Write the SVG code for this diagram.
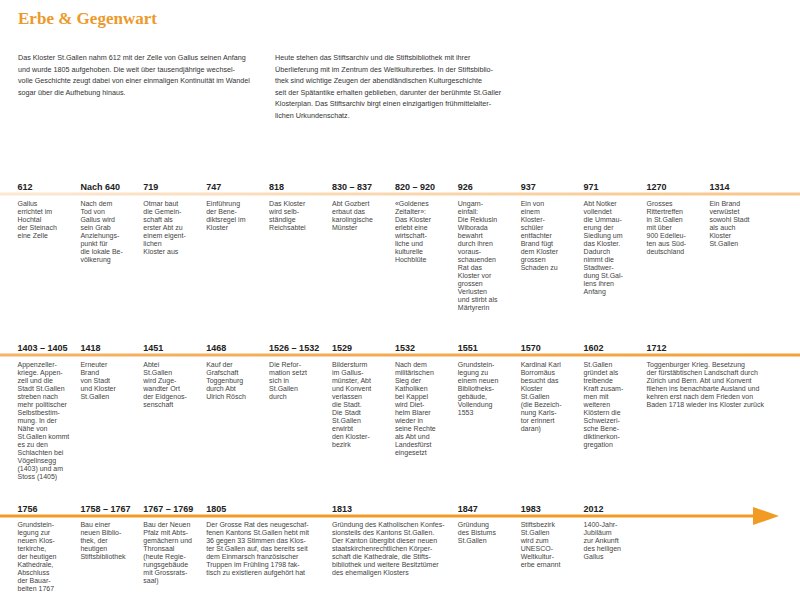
<svg xmlns="http://www.w3.org/2000/svg" width="800" height="609" viewBox="0 0 800 609">
<defs>
<style>
.t{font-family:"Liberation Serif","Times New Roman",serif;font-weight:bold;font-size:17px;fill:#EC9A2C}
.i{font-family:"Liberation Sans",Arial,sans-serif;font-size:7.2px;fill:#333}
.y{font-family:"Liberation Sans",Arial,sans-serif;font-weight:bold;font-size:9px;fill:#222}
.b{font-family:"Liberation Sans",Arial,sans-serif;font-size:7px;fill:#444}
.ln{fill:none;stroke-width:3}
</style>
<linearGradient id="g1" gradientUnits="userSpaceOnUse" x1="0" y1="0" x2="800" y2="0">
<stop offset="0" stop-color="#FCE8D2"/><stop offset="1" stop-color="#F7C58A"/>
</linearGradient>
<linearGradient id="g2" gradientUnits="userSpaceOnUse" x1="0" y1="0" x2="800" y2="0">
<stop offset="0" stop-color="#F5B366"/><stop offset="1" stop-color="#F2A13A"/>
</linearGradient>
</defs>
<rect width="800" height="609" fill="#fff"/>
<text class="t" x="18" y="24" textLength="139" lengthAdjust="spacingAndGlyphs">Erbe &amp; Gegenwart</text>
<g id="intro-left">
<text class="i" x="18" y="60">
<tspan x="18" y="60">Das Kloster St.Gallen nahm 612 mit der Zelle von Gallus seinen Anfang</tspan>
<tspan x="18" y="71.6">und wurde 1805 aufgehoben. Die weit über tausendjährige wechsel-</tspan>
<tspan x="18" y="83.2">volle Geschichte zeugt dabei von einer einmaligen Kontinuität im Wandel</tspan>
<tspan x="18" y="94.8">sogar über die Aufhebung hinaus.</tspan>
</text>
</g>
<g id="intro-right">
<text class="i" x="275" y="60">
<tspan x="275" y="60">Heute stehen das Stiftsarchiv und die Stiftsbibliothek mit ihrer</tspan>
<tspan x="275" y="71.6">Überlieferung mit im Zentrum des Weltkulturerbes. In der Stiftsbiblio-</tspan>
<tspan x="275" y="83.2">thek sind wichtige Zeugen der abendländischen Kulturgeschichte</tspan>
<tspan x="275" y="94.8">seit der Spätantike erhalten geblieben, darunter der berühmte St.Galler</tspan>
<tspan x="275" y="106.4">Klosterplan. Das Stiftsarchiv birgt einen einzigartigen frühmittelalter-</tspan>
<tspan x="275" y="118">lichen Urkundenschatz.</tspan>
</text>
</g>
<g id="connectors">
<line class="ln" x1="0" y1="194" x2="800" y2="194" stroke="url(#g1)"/>
<line class="ln" x1="0" y1="355" x2="800" y2="355" stroke="url(#g2)"/>
<line class="ln" x1="0" y1="516" x2="756" y2="516" stroke="#F29B24"/>
<polygon points="753,507 779,516 753,525" fill="#F29B24"/>
</g>
<!-- Row 1 -->
<g id="e612"><text class="y" x="17.5" y="190">612</text><text class="b"><tspan x="17.5" y="206">Gallus</tspan><tspan x="17.5" dy="8">errichtet im</tspan><tspan x="17.5" dy="8">Hochtal</tspan><tspan x="17.5" dy="8">der Steinach</tspan><tspan x="17.5" dy="8">eine Zelle</tspan></text></g>
<g id="e640"><text class="y" x="80.4" y="190">Nach 640</text><text class="b"><tspan x="80.4" y="206">Nach dem</tspan><tspan x="80.4" dy="8">Tod von</tspan><tspan x="80.4" dy="8">Gallus wird</tspan><tspan x="80.4" dy="8">sein Grab</tspan><tspan x="80.4" dy="8">Anziehungs-</tspan><tspan x="80.4" dy="8">punkt für</tspan><tspan x="80.4" dy="8">die lokale Be-</tspan><tspan x="80.4" dy="8">völkerung</tspan></text></g>
<g id="e719"><text class="y" x="143.3" y="190">719</text><text class="b"><tspan x="143.3" y="206">Otmar baut</tspan><tspan x="143.3" dy="8">die Gemein-</tspan><tspan x="143.3" dy="8">schaft als</tspan><tspan x="143.3" dy="8">erster Abt zu</tspan><tspan x="143.3" dy="8">einem eigent-</tspan><tspan x="143.3" dy="8">lichen</tspan><tspan x="143.3" dy="8">Kloster aus</tspan></text></g>
<g id="e747"><text class="y" x="206.2" y="190">747</text><text class="b"><tspan x="206.2" y="206">Einführung</tspan><tspan x="206.2" dy="8">der Bene-</tspan><tspan x="206.2" dy="8">diktsregel im</tspan><tspan x="206.2" dy="8">Kloster</tspan></text></g>
<g id="e818"><text class="y" x="269.1" y="190">818</text><text class="b"><tspan x="269.1" y="206">Das Kloster</tspan><tspan x="269.1" dy="8">wird selb-</tspan><tspan x="269.1" dy="8">ständige</tspan><tspan x="269.1" dy="8">Reichsabtei</tspan></text></g>
<g id="e830"><text class="y" x="332" y="190">830 – 837</text><text class="b"><tspan x="332" y="206">Abt Gozbert</tspan><tspan x="332" dy="8">erbaut das</tspan><tspan x="332" dy="8">karolingische</tspan><tspan x="332" dy="8">Münster</tspan></text></g>
<g id="e820"><text class="y" x="394.9" y="190">820 – 920</text><text class="b"><tspan x="394.9" y="206">«Goldenes</tspan><tspan x="394.9" dy="8">Zeitalter»:</tspan><tspan x="394.9" dy="8">Das Kloster</tspan><tspan x="394.9" dy="8">erlebt eine</tspan><tspan x="394.9" dy="8">wirtschaft-</tspan><tspan x="394.9" dy="8">liche und</tspan><tspan x="394.9" dy="8">kulturelle</tspan><tspan x="394.9" dy="8">Hochblüte</tspan></text></g>
<g id="e926"><text class="y" x="457.8" y="190">926</text><text class="b"><tspan x="457.8" y="206">Ungarn-</tspan><tspan x="457.8" dy="8">einfall:</tspan><tspan x="457.8" dy="8">Die Reklusin</tspan><tspan x="457.8" dy="8">Wiborada</tspan><tspan x="457.8" dy="8">bewahrt</tspan><tspan x="457.8" dy="8">durch ihren</tspan><tspan x="457.8" dy="8">voraus-</tspan><tspan x="457.8" dy="8">schauenden</tspan><tspan x="457.8" dy="8">Rat das</tspan><tspan x="457.8" dy="8">Kloster vor</tspan><tspan x="457.8" dy="8">grossen</tspan><tspan x="457.8" dy="8">Verlusten</tspan><tspan x="457.8" dy="8">und stirbt als</tspan><tspan x="457.8" dy="8">Märtyrerin</tspan></text></g>
<g id="e937"><text class="y" x="520.7" y="190">937</text><text class="b"><tspan x="520.7" y="206">Ein von</tspan><tspan x="520.7" dy="8">einem</tspan><tspan x="520.7" dy="8">Kloster-</tspan><tspan x="520.7" dy="8">schüler</tspan><tspan x="520.7" dy="8">entfachter</tspan><tspan x="520.7" dy="8">Brand fügt</tspan><tspan x="520.7" dy="8">dem Kloster</tspan><tspan x="520.7" dy="8">grossen</tspan><tspan x="520.7" dy="8">Schaden zu</tspan></text></g>
<g id="e971"><text class="y" x="583.6" y="190">971</text><text class="b"><tspan x="583.6" y="206">Abt Notker</tspan><tspan x="583.6" dy="8">vollendet</tspan><tspan x="583.6" dy="8">die Ummau-</tspan><tspan x="583.6" dy="8">erung der</tspan><tspan x="583.6" dy="8">Siedlung um</tspan><tspan x="583.6" dy="8">das Kloster.</tspan><tspan x="583.6" dy="8">Dadurch</tspan><tspan x="583.6" dy="8">nimmt die</tspan><tspan x="583.6" dy="8">Stadtwer-</tspan><tspan x="583.6" dy="8">dung St.Gal-</tspan><tspan x="583.6" dy="8">lens ihren</tspan><tspan x="583.6" dy="8">Anfang</tspan></text></g>
<g id="e1270"><text class="y" x="646.5" y="190">1270</text><text class="b"><tspan x="646.5" y="206">Grosses</tspan><tspan x="646.5" dy="8">Rittertreffen</tspan><tspan x="646.5" dy="8">in St.Gallen</tspan><tspan x="646.5" dy="8">mit über</tspan><tspan x="646.5" dy="8">900 Edelleu-</tspan><tspan x="646.5" dy="8">ten aus Süd-</tspan><tspan x="646.5" dy="8">deutschland</tspan></text></g>
<g id="e1314"><text class="y" x="709.4" y="190">1314</text><text class="b"><tspan x="709.4" y="206">Ein Brand</tspan><tspan x="709.4" dy="8">verwüstet</tspan><tspan x="709.4" dy="8">sowohl Stadt</tspan><tspan x="709.4" dy="8">als auch</tspan><tspan x="709.4" dy="8">Kloster</tspan><tspan x="709.4" dy="8">St.Gallen</tspan></text></g>
<!-- Row 2 -->
<g id="e1403"><text class="y" x="17.5" y="351">1403 – 1405</text><text class="b"><tspan x="17.5" y="367">Appenzeller-</tspan><tspan x="17.5" dy="8">kriege. Appen-</tspan><tspan x="17.5" dy="8">zell und die</tspan><tspan x="17.5" dy="8">Stadt St.Gallen</tspan><tspan x="17.5" dy="8">streben nach</tspan><tspan x="17.5" dy="8">mehr politischer</tspan><tspan x="17.5" dy="8">Selbstbestim-</tspan><tspan x="17.5" dy="8">mung. In der</tspan><tspan x="17.5" dy="8">Nähe von</tspan><tspan x="17.5" dy="8">St.Gallen kommt</tspan><tspan x="17.5" dy="8">es zu den</tspan><tspan x="17.5" dy="8">Schlachten bei</tspan><tspan x="17.5" dy="8">Vögelinsegg</tspan><tspan x="17.5" dy="8">(1403) und am</tspan><tspan x="17.5" dy="8">Stoss (1405)</tspan></text></g>
<g id="e1418"><text class="y" x="80.4" y="351">1418</text><text class="b"><tspan x="80.4" y="367">Erneuter</tspan><tspan x="80.4" dy="8">Brand</tspan><tspan x="80.4" dy="8">von Stadt</tspan><tspan x="80.4" dy="8">und Kloster</tspan><tspan x="80.4" dy="8">St.Gallen</tspan></text></g>
<g id="e1451"><text class="y" x="143.3" y="351">1451</text><text class="b"><tspan x="143.3" y="367">Abtei</tspan><tspan x="143.3" dy="8">St.Gallen</tspan><tspan x="143.3" dy="8">wird Zuge-</tspan><tspan x="143.3" dy="8">wandter Ort</tspan><tspan x="143.3" dy="8">der Eidgenos-</tspan><tspan x="143.3" dy="8">senschaft</tspan></text></g>
<g id="e1468"><text class="y" x="206.2" y="351">1468</text><text class="b"><tspan x="206.2" y="367">Kauf der</tspan><tspan x="206.2" dy="8">Grafschaft</tspan><tspan x="206.2" dy="8">Toggenburg</tspan><tspan x="206.2" dy="8">durch Abt</tspan><tspan x="206.2" dy="8">Ulrich Rösch</tspan></text></g>
<g id="e1526"><text class="y" x="269.1" y="351">1526 – 1532</text><text class="b"><tspan x="269.1" y="367">Die Refor-</tspan><tspan x="269.1" dy="8">mation setzt</tspan><tspan x="269.1" dy="8">sich in</tspan><tspan x="269.1" dy="8">St.Gallen</tspan><tspan x="269.1" dy="8">durch</tspan></text></g>
<g id="e1529"><text class="y" x="332" y="351">1529</text><text class="b"><tspan x="332" y="367">Bildersturm</tspan><tspan x="332" dy="8">im Gallus-</tspan><tspan x="332" dy="8">münster, Abt</tspan><tspan x="332" dy="8">und Konvent</tspan><tspan x="332" dy="8">verlassen</tspan><tspan x="332" dy="8">die Stadt.</tspan><tspan x="332" dy="8">Die Stadt</tspan><tspan x="332" dy="8">St.Gallen</tspan><tspan x="332" dy="8">erwirbt</tspan><tspan x="332" dy="8">den Kloster-</tspan><tspan x="332" dy="8">bezirk</tspan></text></g>
<g id="e1532"><text class="y" x="394.9" y="351">1532</text><text class="b"><tspan x="394.9" y="367">Nach dem</tspan><tspan x="394.9" dy="8">militärischen</tspan><tspan x="394.9" dy="8">Sieg der</tspan><tspan x="394.9" dy="8">Katholiken</tspan><tspan x="394.9" dy="8">bei Kappel</tspan><tspan x="394.9" dy="8">wird Diet-</tspan><tspan x="394.9" dy="8">helm Blarer</tspan><tspan x="394.9" dy="8">wieder in</tspan><tspan x="394.9" dy="8">seine Rechte</tspan><tspan x="394.9" dy="8">als Abt und</tspan><tspan x="394.9" dy="8">Landesfürst</tspan><tspan x="394.9" dy="8">eingesetzt</tspan></text></g>
<g id="e1551"><text class="y" x="457.8" y="351">1551</text><text class="b"><tspan x="457.8" y="367">Grundstein-</tspan><tspan x="457.8" dy="8">legung zu</tspan><tspan x="457.8" dy="8">einem neuen</tspan><tspan x="457.8" dy="8">Bibliotheks-</tspan><tspan x="457.8" dy="8">gebäude,</tspan><tspan x="457.8" dy="8">Vollendung</tspan><tspan x="457.8" dy="8">1553</tspan></text></g>
<g id="e1570"><text class="y" x="520.7" y="351">1570</text><text class="b"><tspan x="520.7" y="367">Kardinal Karl</tspan><tspan x="520.7" dy="8">Borromäus</tspan><tspan x="520.7" dy="8">besucht das</tspan><tspan x="520.7" dy="8">Kloster</tspan><tspan x="520.7" dy="8">St.Gallen</tspan><tspan x="520.7" dy="8">(die Bezeich-</tspan><tspan x="520.7" dy="8">nung Karls-</tspan><tspan x="520.7" dy="8">tor erinnert</tspan><tspan x="520.7" dy="8">daran)</tspan></text></g>
<g id="e1602"><text class="y" x="583.6" y="351">1602</text><text class="b"><tspan x="583.6" y="367">St.Gallen</tspan><tspan x="583.6" dy="8">gründet als</tspan><tspan x="583.6" dy="8">treibende</tspan><tspan x="583.6" dy="8">Kraft zusam-</tspan><tspan x="583.6" dy="8">men mit</tspan><tspan x="583.6" dy="8">weiteren</tspan><tspan x="583.6" dy="8">Klöstern die</tspan><tspan x="583.6" dy="8">Schweizeri-</tspan><tspan x="583.6" dy="8">sche Bene-</tspan><tspan x="583.6" dy="8">diktinerkon-</tspan><tspan x="583.6" dy="8">gregation</tspan></text></g>
<g id="e1712"><text class="y" x="646.5" y="351">1712</text><text class="b"><tspan x="646.5" y="367">Toggenburger Krieg. Besetzung</tspan><tspan x="646.5" dy="8">der fürstäbtischen Landschaft durch</tspan><tspan x="646.5" dy="8">Zürich und Bern. Abt und Konvent</tspan><tspan x="646.5" dy="8">fliehen ins benachbarte Ausland und</tspan><tspan x="646.5" dy="8">kehren erst nach dem Frieden von</tspan><tspan x="646.5" dy="8">Baden 1718 wieder ins Kloster zurück</tspan></text></g>
<!-- Row 3 -->
<g id="e1756"><text class="y" x="17.5" y="512">1756</text><text class="b"><tspan x="17.5" y="527">Grundstein-</tspan><tspan x="17.5" dy="8">legung zur</tspan><tspan x="17.5" dy="8">neuen Klos-</tspan><tspan x="17.5" dy="8">terkirche,</tspan><tspan x="17.5" dy="8">der heutigen</tspan><tspan x="17.5" dy="8">Kathedrale,</tspan><tspan x="17.5" dy="8">Abschluss</tspan><tspan x="17.5" dy="8">der Bauar-</tspan><tspan x="17.5" dy="8">beiten 1767</tspan></text></g>
<g id="e1758"><text class="y" x="80.4" y="512">1758 – 1767</text><text class="b"><tspan x="80.4" y="527">Bau einer</tspan><tspan x="80.4" dy="8">neuen Biblio-</tspan><tspan x="80.4" dy="8">thek, der</tspan><tspan x="80.4" dy="8">heutigen</tspan><tspan x="80.4" dy="8">Stiftsbibliothek</tspan></text></g>
<g id="e1767"><text class="y" x="143.3" y="512">1767 – 1769</text><text class="b"><tspan x="143.3" y="527">Bau der Neuen</tspan><tspan x="143.3" dy="8">Pfalz mit Abts-</tspan><tspan x="143.3" dy="8">gemächern und</tspan><tspan x="143.3" dy="8">Thronsaal</tspan><tspan x="143.3" dy="8">(heute Regie-</tspan><tspan x="143.3" dy="8">rungsgebäude</tspan><tspan x="143.3" dy="8">mit Grossrats-</tspan><tspan x="143.3" dy="8">saal)</tspan></text></g>
<g id="e1805"><text class="y" x="206.2" y="512">1805</text><text class="b"><tspan x="206.2" y="527">Der Grosse Rat des neugeschaf-</tspan><tspan x="206.2" dy="8">fenen Kantons St.Gallen hebt mit</tspan><tspan x="206.2" dy="8">36 gegen 33 Stimmen das Klos-</tspan><tspan x="206.2" dy="8">ter St.Gallen auf, das bereits seit</tspan><tspan x="206.2" dy="8">dem Einmarsch französischer</tspan><tspan x="206.2" dy="8">Truppen im Frühling 1798 fak-</tspan><tspan x="206.2" dy="8">tisch zu existieren aufgehört hat</tspan></text></g>
<g id="e1813"><text class="y" x="332" y="512">1813</text><text class="b"><tspan x="332" y="527">Gründung des Katholischen Konfes-</tspan><tspan x="332" dy="8">sionsteils des Kantons St.Gallen.</tspan><tspan x="332" dy="8">Der Kanton übergibt dieser neuen</tspan><tspan x="332" dy="8">staatskirchenrechtlichen Körper-</tspan><tspan x="332" dy="8">schaft die Kathedrale, die Stifts-</tspan><tspan x="332" dy="8">bibliothek und weitere Besitztümer</tspan><tspan x="332" dy="8">des ehemaligen Klosters</tspan></text></g>
<g id="e1847"><text class="y" x="457.8" y="512">1847</text><text class="b"><tspan x="457.8" y="527">Gründung</tspan><tspan x="457.8" dy="8">des Bistums</tspan><tspan x="457.8" dy="8">St.Gallen</tspan></text></g>
<g id="e1983"><text class="y" x="520.7" y="512">1983</text><text class="b"><tspan x="520.7" y="527">Stiftsbezirk</tspan><tspan x="520.7" dy="8">St.Gallen</tspan><tspan x="520.7" dy="8">wird zum</tspan><tspan x="520.7" dy="8">UNESCO-</tspan><tspan x="520.7" dy="8">Weltkultur-</tspan><tspan x="520.7" dy="8">erbe ernannt</tspan></text></g>
<g id="e2012"><text class="y" x="583.6" y="512">2012</text><text class="b"><tspan x="583.6" y="527">1400-Jahr-</tspan><tspan x="583.6" dy="8">Jubiläum</tspan><tspan x="583.6" dy="8">zur Ankunft</tspan><tspan x="583.6" dy="8">des heiligen</tspan><tspan x="583.6" dy="8">Gallus</tspan></text></g>
</svg>
